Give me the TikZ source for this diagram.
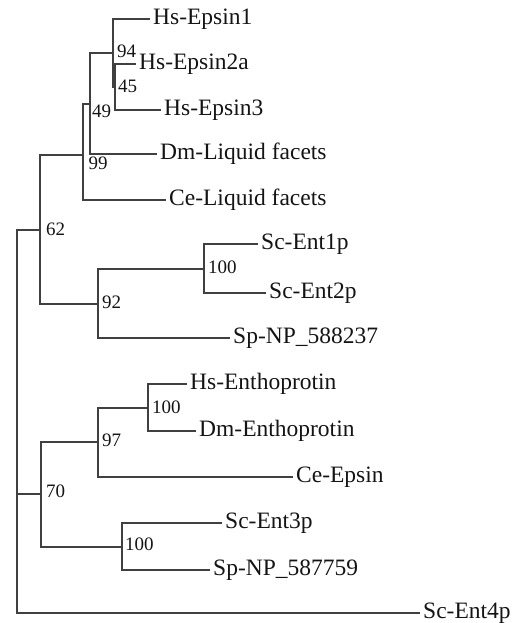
\documentclass[tikz,border=0pt]{standalone}
\usepackage{fontspec}
\setmainfont{Liberation Serif}
\begin{document}
\begin{tikzpicture}[x=1pt,y=-1pt,
  br/.style={line width=1.4pt, draw=black!75, line cap=rect},
  leaf/.style={anchor=base west, inner sep=0pt, font=\fontsize{23.5}{27}\selectfont, text=black!92},
  boot/.style={anchor=west, inner sep=0pt, font=\fontsize{19}{22}\selectfont, text=black!92}]
\useasboundingbox (0,0) rectangle (517,623);
% internal nodes
\coordinate (root) at (17,421);
\coordinate (n62) at (40,230);
\coordinate (n99) at (83,155);
\coordinate (n49) at (90,104);
\coordinate (n94) at (113,53);
\coordinate (n45) at (115,87);
\coordinate (n92) at (98,304);
\coordinate (n100a) at (204,269);
\coordinate (n70) at (41,494);
\coordinate (n97) at (98,442);
\coordinate (n100b) at (148,408);
\coordinate (n100c) at (122,547);
% leaf ends
\coordinate (e1) at (149,19);
\coordinate (e2) at (135,64);
\coordinate (e3) at (160,110);
\coordinate (e4) at (156,154);
\coordinate (e5) at (165,200);
\coordinate (e6) at (257,244);
\coordinate (e7) at (265,293);
\coordinate (e8) at (229,338);
\coordinate (e9) at (186,384);
\coordinate (e10) at (195,431);
\coordinate (e11) at (292,477);
\coordinate (e12) at (221,523);
\coordinate (e13) at (209,570);
\coordinate (e14) at (419,613);
% branches
\draw[br] (n62) -| (root) |- (e14);
\draw[br] (root) |- (n70);
\draw[br] (n99) -| (n62) |- (n92);
\draw[br] (n49) -| (n99) |- (e5);
\draw[br] (n94) -| (n49) |- (e4);
\draw[br] (e1) -| (n94) |- (n45);
\draw[br] (e2) -| (n45) |- (e3);
\draw[br] (n100a) -| (n92) |- (e8);
\draw[br] (e6) -| (n100a) |- (e7);
\draw[br] (n97) -| (n70) |- (n100c);
\draw[br] (n100b) -| (n97) |- (e11);
\draw[br] (e9) -| (n100b) |- (e10);
\draw[br] (e12) -| (n100c) |- (e13);
% leaf labels
\node[leaf] (l1) at ([xshift=4pt,yshift=-5.5pt]e1) {Hs-Epsin1};
\node[leaf] (l2) at ([xshift=4pt,yshift=-5.5pt]e2) {Hs-Epsin2a};
\node[leaf] (l3) at ([xshift=4pt,yshift=-5.5pt]e3) {Hs-Epsin3};
\node[leaf] (l4) at ([xshift=4pt,yshift=-5.5pt]e4) {Dm-Liquid facets};
\node[leaf] (l5) at ([xshift=4pt,yshift=-5.5pt]e5) {Ce-Liquid facets};
\node[leaf] (l6) at ([xshift=4pt,yshift=-5.5pt]e6) {Sc-Ent1p};
\node[leaf] (l7) at ([xshift=4pt,yshift=-5.5pt]e7) {Sc-Ent2p};
\node[leaf] (l8) at ([xshift=4pt,yshift=-5.5pt]e8) {Sp-NP\_588237};
\node[leaf] (l9) at ([xshift=4pt,yshift=-5.5pt]e9) {Hs-Enthoprotin};
\node[leaf] (l10) at ([xshift=4pt,yshift=-5.5pt]e10) {Dm-Enthoprotin};
\node[leaf] (l11) at ([xshift=4pt,yshift=-5.5pt]e11) {Ce-Epsin};
\node[leaf] (l12) at ([xshift=4pt,yshift=-5.5pt]e12) {Sc-Ent3p};
\node[leaf] (l13) at ([xshift=4pt,yshift=-5.5pt]e13) {Sp-NP\_587759};
\node[leaf] (l14) at ([xshift=4pt,yshift=-5.5pt]e14) {Sc-Ent4p};
% bootstrap values
\node[boot] (b94) at (117,51) {94};
\node[boot] (b45) at (118,86) {45};
\node[boot] (b49) at (92,111) {49};
\node[boot] (b99) at (88.5,163) {99};
\node[boot] (b62) at (46,229.5) {62};
\node[boot] (b92) at (102,302.5) {92};
\node[boot] (b100a) at (208,267.5) {100};
\node[boot] (b100b) at (152,407.5) {100};
\node[boot] (b97) at (102,440) {97};
\node[boot] (b70) at (46,491) {70};
\node[boot] (b100c) at (125,544.5) {100};
\end{tikzpicture}
\end{document}
